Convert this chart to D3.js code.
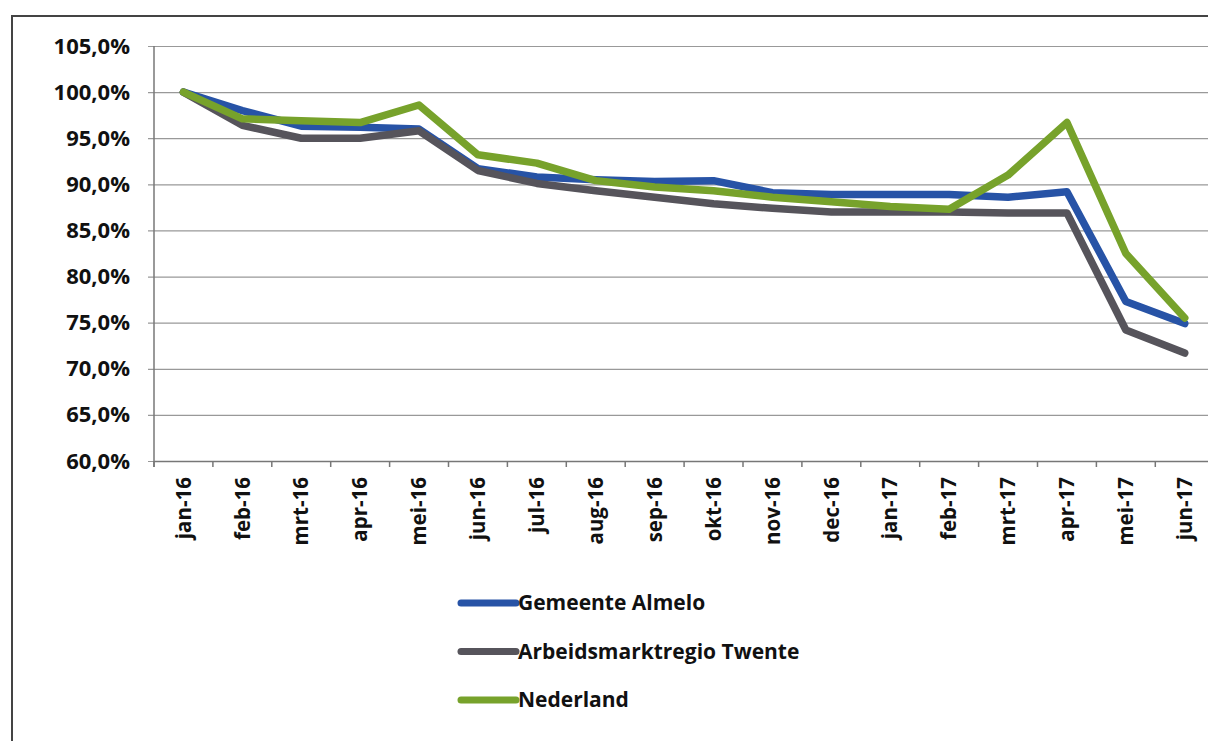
<!DOCTYPE html>
<html>
<head>
<meta charset="utf-8">
<script src="https://cdn.jsdelivr.net/npm/d3@7"></script>
<style>
  body { margin: 0; background: #fff; }
  svg { display: block; }
  text { font-family: "Open Sans", "Liberation Sans", sans-serif; font-weight: 700; fill: #111; }
</style>
</head>
<body>
<div id="chart"></div>
<script>
// months on the x axis
var months = ["jan-16","feb-16","mrt-16","apr-16","mei-16","jun-16","jul-16","aug-16","sep-16","okt-16",
              "nov-16","dec-16","jan-17","feb-17","mrt-17","apr-17","mei-17","jun-17"];

// series values (index, jan-16 = 100%)
var almelo    = [100, 98.0, 96.3, 96.2, 96.0, 91.7, 90.8, 90.5, 90.3, 90.4, 89.1, 88.9, 88.9, 88.9, 88.6, 89.2, 77.3, 74.9];
var twente    = [100, 96.4, 95.0, 95.0, 95.8, 91.5, 90.1, 89.3, 88.6, 87.9, 87.4, 87.0, 87.0, 87.0, 86.9, 86.9, 74.2, 71.7];
var nederland = [100, 97.1, 96.9, 96.7, 98.6, 93.2, 92.3, 90.4, 89.7, 89.3, 88.6, 88.1, 87.6, 87.3, 91.0, 96.7, 82.5, 75.5];

var seriesNames = ["Gemeente Almelo", "Arbeidsmarktregio Twente", "Nederland"];
var seriesColors = ["#2753a6", "#56545b", "#77a22b"];

var yTicks = [60, 65, 70, 75, 80, 85, 90, 95, 100, 105];

var W = 1208, H = 741;
var margin = {top: 46, left: 154};
var plotW = 18 * 58.9, plotH = 415;

var svg = d3.select("#chart").append("svg")
    .attr("width", W)
    .attr("height", H);

// outer frame of the chart
svg.append("rect")
    .attr("x", 12).attr("y", 16)
    .attr("width", W + 20).attr("height", H + 20)
    .attr("fill", "none")
    .attr("stroke", "#444")
    .attr("stroke-width", 2);

var g = svg.append("g")
    .attr("transform", "translate(" + margin.left + "," + margin.top + ")");

var x = d3.scaleBand()
    .domain(months)
    .range([0, plotW]);

var y = d3.scaleLinear()
    .domain([60, 105])
    .range([plotH, 0]);

var nl = d3.formatLocale({decimal: ",", thousands: ".", grouping: [3], currency: ["€", ""]});
var fmt = nl.format(".1f");

// Y axis + gridlines
var yAxis = g.append("g")
    .call(d3.axisLeft(y).tickValues(yTicks).tickSize(-(W - margin.left))
      .tickFormat(function(d) { return fmt(d) + "%"; }));
yAxis.select(".domain").remove();
yAxis.selectAll(".tick line")
    .attr("x1", -6)
    .attr("stroke", "#999")
    .attr("stroke-width", 1.2);
yAxis.selectAll(".tick text")
    .style("font-size", "22px")
    .attr("x", -24);

// y axis line
g.append("line")
    .attr("x1", 0).attr("x2", 0)
    .attr("y1", 0).attr("y2", plotH + 6)
    .attr("stroke", "#777")
    .attr("stroke-width", 1.5);

// X axis
var xAxis = g.append("g")
    .attr("transform", "translate(0," + plotH + ")")
    .call(d3.axisBottom(x).tickSize(0).tickSizeOuter(0));
xAxis.select(".domain")
    .attr("stroke", "#777")
    .attr("stroke-width", 1.5);
xAxis.selectAll(".tick text")
    .style("font-size", "20.5px")
    .attr("text-anchor", "end")
    .attr("transform", "rotate(-90)")
    .attr("x", -16)
    .attr("y", 0)
    .attr("dy", "0.35em");

// ticks between the months
xAxis.selectAll(".sep")
    .data(months)
    .enter().append("line")
    .attr("x1", function(d) { return x(d); })
    .attr("x2", function(d) { return x(d); })
    .attr("y1", 0).attr("y2", 6)
    .attr("stroke", "#777")
    .attr("stroke-width", 1.5);

// lines
var line = d3.line()
    .x(function(d, i) { return x(months[i]) + x.bandwidth() / 2; })
    .y(function(d) { return y(d); });

var allSeries = [almelo, twente, nederland];
g.selectAll(".series")
    .data(allSeries)
    .enter().append("path")
    .attr("class", "series")
    .attr("d", line)
    .attr("fill", "none")
    .attr("stroke", function(d, i) { return seriesColors[i]; })
    .attr("stroke-width", 7.5)
    .attr("stroke-linejoin", "round")
    .attr("stroke-linecap", "round");

// legend
var legend = svg.append("g")
    .attr("transform", "translate(458,603)");
var item = legend.selectAll(".item")
    .data(seriesNames)
    .enter().append("g")
    .attr("transform", function(d, i) { return "translate(0," + (i * 48.5) + ")"; });
item.append("line")
    .attr("x1", 3).attr("x2", 58)
    .attr("stroke", function(d, i) { return seriesColors[i]; })
    .attr("stroke-width", 7)
    .attr("stroke-linecap", "round");
item.append("text")
    .attr("x", 60)
    .attr("dy", "0.35em")
    .style("font-size", "21px")
    .text(function(d) { return d; });
</script>
</body>
</html>
